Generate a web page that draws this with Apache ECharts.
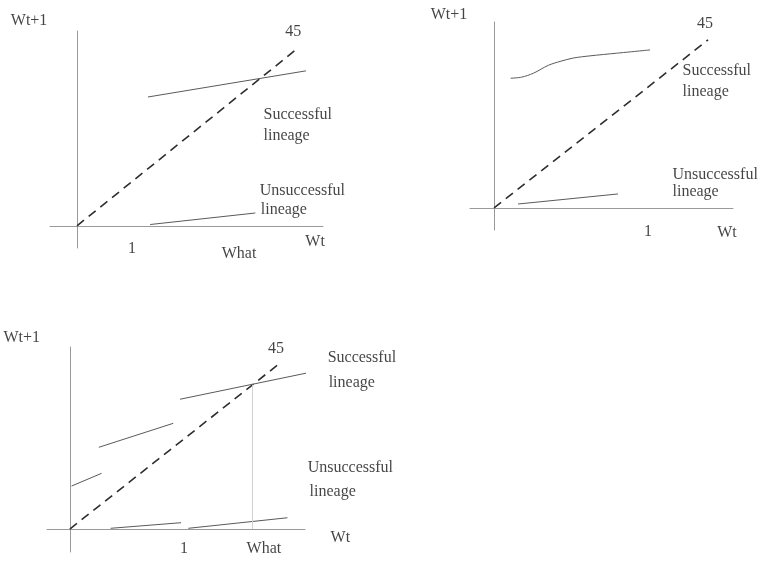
<!DOCTYPE html>
<html>
<head>
<meta charset="utf-8">
<script src="https://cdn.jsdelivr.net/npm/echarts@6/dist/echarts.min.js"></script>
<style>
  html, body { margin: 0; padding: 0; background: #fff; }
  #chart { width: 760px; height: 561px; }
</style>
</head>
<body>
<div id="chart"></div>
<script>
// ---- Panel A (top left): linear map, one successful / one unsuccessful lineage ----
const aDiagonal   = [[0, 0], [4.02, 4.02]];
const aSuccessful = [[1.29, 2.91], [4.16, 3.50]];
const aFailing    = [[1.33, 0.03], [3.24, 0.29]];
const aText = [
  ['Wt+1', -0.87, 4.63, 'center'],
  ['45', 3.93, 4.38, 'center'],
  ['Successful', 3.38, 2.51, 'left'],
  ['lineage', 3.38, 2.03, 'left'],
  ['Unsuccessful', 3.31, 0.79, 'left'],
  ['lineage', 3.33, 0.36, 'left'],
  ['1', 1.0, -0.52, 'center'],
  ['What', 2.945, -0.632, 'center'],
  ['Wt', 4.327, -0.36, 'center']
];

// ---- Panel B (top right): concave successful map, flat unsuccessful map ----
const bDiagonal   = [[0, 0], [1.39, 1.39]];
const bSuccessful = [[0.108, 1.073], [0.180, 1.082], [0.255, 1.114], [0.353, 1.180],
                     [0.429, 1.212], [0.515, 1.240], [0.623, 1.258], [0.797, 1.280], [1.013, 1.307]];
const bFailing    = [[0.156, 0.033], [0.805, 0.116]];
const bText = [
  ['Wt+1', -0.292, 1.596, 'center'],
  ['45', 1.37, 1.52, 'center'],
  ['Successful', 1.221, 1.133, 'left'],
  ['lineage', 1.221, 0.959, 'left'],
  ['Unsuccessful', 1.156, 0.273, 'left'],
  ['lineage', 1.156, 0.132, 'left'],
  ['1', 1.0, -0.2, 'center'],
  ['Wt', 1.513, -0.207, 'center']
];

// ---- Panel C (bottom): piecewise maps with jumps ----
const cDiagonal   = [[0, 0], [1.84, 1.84]];
const cSuccessful = [
  [[0.015, 0.477], [0.278, 0.618]],
  [[0.254, 0.907], [0.906, 1.173]],
  [[0.965, 1.440], [2.090, 1.735]]
];
const cFailing = [
  [[0.357, 0.008], [0.974, 0.070]],
  [[1.038, 0.008], [1.906, 0.125]]
];
const cWhat = [[1.6, 0], [1.6, 1.6]];
const cText = [
  ['Wt+1', -0.421, 2.12, 'center'],
  ['45', 1.807, 2.0, 'center'],
  ['Successful', 2.254, 1.898, 'left'],
  ['lineage', 2.263, 1.62, 'left'],
  ['Unsuccessful', 2.079, 0.677, 'left'],
  ['lineage', 2.096, 0.41, 'left'],
  ['1', 1.0, -0.222, 'center'],
  ['What', 1.70, -0.222, 'center'],
  ['Wt', 2.37, -0.10, 'center']
];

// Axis extents (the axes cross at the origin and overshoot it a little)
const aRangeX = [-0.49, 4.47],  aRangeY = [-0.50, 4.40];
const bRangeX = [-0.156, 1.552], bRangeY = [-0.182, 1.538];
const cRangeX = [-0.20, 2.06],  cRangeY = [-0.255, 2.02];

const FONT = '"Liberation Serif", "Times New Roman", serif';
const AXIS_COLOR = '#9a9a9a';
const LINE_COLOR = '#5a5a5a';
const DASH_COLOR = '#2e2e2e';

function axis(range, idx) {
  return {
    type: 'value', gridIndex: idx, min: range[0], max: range[1],
    axisLine: { show: true, onZero: true, lineStyle: { color: AXIS_COLOR, width: 1 } },
    axisTick: { show: false }, axisLabel: { show: false }, splitLine: { show: false }
  };
}

function seg(idx, data, style, smooth) {
  return {
    type: 'line', xAxisIndex: idx, yAxisIndex: idx, data: data,
    showSymbol: false, symbol: 'none', clip: false,
    smooth: smooth || false,
    lineStyle: style, silent: true, z: 3
  };
}

function diag(idx, data) {
  return seg(idx, data, { color: DASH_COLOR, width: 1.6, type: [9, 6] });
}

function solid(idx, data, smooth) {
  return seg(idx, data, { color: LINE_COLOR, width: 1 }, smooth);
}

function texts(idx, list) {
  return {
    type: 'scatter', xAxisIndex: idx, yAxisIndex: idx, clip: false, silent: true,
    symbol: 'circle', symbolSize: 1, itemStyle: { color: 'rgba(0,0,0,0)' },
    data: list.map(t => ({
      name: t[0], value: [t[1], t[2]],
      label: {
        show: true, formatter: '{b}',
        position: t[3] === 'left' ? 'right' : 'inside',
        distance: 0,
        fontFamily: FONT, fontSize: 16, color: '#141414'
      }
    })),
    z: 5
  };
}

const series = [
  diag(0, aDiagonal), solid(0, aSuccessful), solid(0, aFailing), texts(0, aText),
  diag(1, bDiagonal), solid(1, bSuccessful, 0.3), solid(1, bFailing), texts(1, bText),
  diag(2, cDiagonal),
  ...cSuccessful.map(d => solid(2, d)),
  ...cFailing.map(d => solid(2, d)),
  seg(2, cWhat, { color: '#d2d2d2', width: 1 }),
  texts(2, cText)
];

const chart = echarts.init(document.getElementById('chart'), null, { renderer: 'canvas' });
chart.setOption({
  backgroundColor: '#ffffff',
  animation: false,
  grid: [
    { left: 50,  top: 31,  width: 273, height: 217 },
    { left: 470, top: 22,  width: 263, height: 208 },
    { left: 47,  top: 347, width: 258, height: 205 }
  ],
  xAxis: [axis(aRangeX, 0), axis(bRangeX, 1), axis(cRangeX, 2)],
  yAxis: [axis(aRangeY, 0), axis(bRangeY, 1), axis(cRangeY, 2)],
  series: series
});
</script>
</body>
</html>
